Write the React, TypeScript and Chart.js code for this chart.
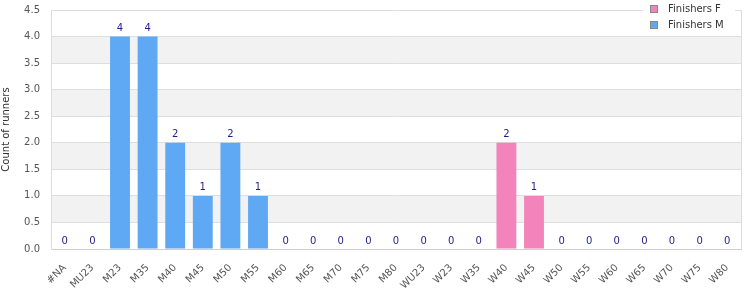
import { useEffect, useRef } from "react";
import { Chart, registerables } from "chart.js";

Chart.register(...registerables);

const categories = ["#NA", "MU23", "M23", "M35", "M40", "M45", "M50", "M55", "M60", "M65", "M70", "M75", "M80", "WU23", "W23", "W35", "W40", "W45", "W50", "W55", "W60", "W65", "W70", "W75", "W80"];
const finishersF = [0, 0, 0, 0, 0, 0, 0, 0, 0, 0, 0, 0, 0, 0, 0, 0, 2, 1, 0, 0, 0, 0, 0, 0, 0];
const finishersM = [0, 0, 4, 4, 2, 1, 2, 1, 0, 0, 0, 0, 0, 0, 0, 0, 0, 0, 0, 0, 0, 0, 0, 0, 0];
const seriesNames = ["Finishers F", "Finishers M"];
const seriesColors = ["#f384bb", "#5fa8f3"];
const yMin = 0;
const yMax = 4.5;
const yStep = 0.5;
const yTitle = "Count of runners";

const FONT = "'DejaVu Sans', Verdana, sans-serif";

const bandsPlugin = {
  id: "bands",
  beforeDraw(chart: any) {
    const { ctx, chartArea, scales } = chart;
    const y = scales.y;
    ctx.save();
    ctx.fillStyle = "#f2f2f2";
    for (let v = 0.5; v < yMax; v += 1) {
      const top = y.getPixelForValue(v + 0.5);
      const bot = y.getPixelForValue(v);
      ctx.fillRect(chartArea.left, top, chartArea.right - chartArea.left, bot - top);
    }
    ctx.restore();
  },
  afterDraw(chart: any) {
    const { ctx, chartArea } = chart;
    ctx.save();
    ctx.strokeStyle = "#dcdcdc";
    ctx.lineWidth = 1;
    ctx.beginPath();
    ctx.moveTo(Math.round(chartArea.right) + 0.5, chartArea.top);
    ctx.lineTo(Math.round(chartArea.right) + 0.5, chartArea.bottom);
    ctx.stroke();
    // legend
    ctx.fillStyle = "#ffffff";
    ctx.fillRect(643, 0, 92, 31);
    ctx.font = `10px ${FONT}`;
    ctx.textBaseline = "middle";
    ctx.textAlign = "left";
    seriesNames.forEach((name, i) => {
      const yy = 5 + i * 16;
      ctx.fillStyle = seriesColors[i];
      ctx.fillRect(650, yy, 8, 8);
      ctx.strokeStyle = "#888";
      ctx.strokeRect(650.5, yy + 0.5, 7, 7);
      ctx.fillStyle = "#333";
      ctx.fillText(name, 668, yy + 4);
    });
    ctx.restore();
  },
};

const labelsPlugin = {
  id: "totals",
  afterDatasetsDraw(chart: any) {
    const { ctx, scales } = chart;
    ctx.save();
    ctx.font = `10px ${FONT}`;
    ctx.fillStyle = "#1f1f8a";
    ctx.textAlign = "center";
    ctx.textBaseline = "bottom";
    categories.forEach((_, i) => {
      const total = finishersF[i] + finishersM[i];
      const x = scales.x.getPixelForValue(i);
      const y = scales.y.getPixelForValue(total);
      ctx.fillText(String(total), x, y - 3);
    });
    ctx.restore();
  },
};

export default function App() {
  const ref = useRef<HTMLCanvasElement | null>(null);
  useEffect(() => {
    if (!ref.current) return;
    const chart = new Chart(ref.current, {
      type: "bar",
      data: {
        labels: categories,
        datasets: [
          { label: seriesNames[0], data: finishersF, backgroundColor: seriesColors[0], borderWidth: 0 },
          { label: seriesNames[1], data: finishersM, backgroundColor: seriesColors[1], borderWidth: 0 },
        ],
      },
      options: {
        responsive: false,
        animation: false,
        devicePixelRatio: 1,
        layout: { padding: { top: 10, right: 9, left: 0, bottom: 0 } },
        plugins: { legend: { display: false }, tooltip: { enabled: false } },
        scales: {
          x: {
            stacked: true,
            grid: { display: false, drawTicks: false },
            border: { color: "#cfcfcf" },
            ticks: {
              minRotation: 45,
              maxRotation: 45,
              autoSkip: false,
              padding: 13,
              color: "#555",
              font: { family: FONT, size: 10 },
            },
            afterFit: (s: any) => { s.height = 51; s.paddingLeft = 0; s.paddingRight = 0; },
          },
          y: {
            stacked: true,
            min: yMin,
            max: yMax,
            ticks: {
              stepSize: yStep,
              padding: 11,
              color: "#555",
              font: { family: FONT, size: 10 },
              callback: (v: any) => Number(v).toFixed(1),
            },
            grid: { color: "#dedede", drawTicks: false },
            border: { color: "#dcdcdc" },
            title: {
              display: true,
              text: yTitle,
              color: "#333",
              font: { family: FONT, size: 10 },
              padding: { top: 0, bottom: 0 },
            },
            afterFit: (s: any) => { s.width = 51; s.paddingTop = 0; s.paddingBottom = 0; },
          },
        },
      },
      plugins: [bandsPlugin, labelsPlugin],
    });
    return () => chart.destroy();
  }, []);
  return (
    <div style={{ position: "absolute", left: 0, top: 0, width: 750, height: 300 }}>
      <canvas ref={ref} width={750} height={300} />
    </div>
  );
}
